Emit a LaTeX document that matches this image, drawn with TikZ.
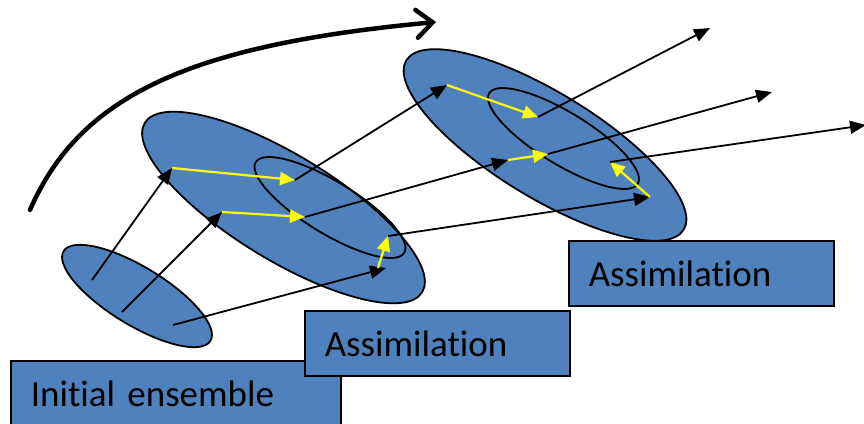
\documentclass[tikz,border=0pt]{standalone}
\usepackage{fontspec}
\setmainfont{Carlito}[Ligatures=NoCommon]
\usepackage{xcolor}
\definecolor{ENSblue}{HTML}{4F81BD}
\definecolor{ENSyellow}{HTML}{FFFF00}
\usetikzlibrary{arrows.meta, shapes.geometric}

\begin{document}
\begin{tikzpicture}[
  x=1pt, y=-1pt,
  cloud/.style={ellipse, draw=black, line width=1.8pt, fill=ENSblue,
    inner sep=0pt, rotate=-31.4},
  core/.style={ellipse, draw=black, line width=1.8pt, inner sep=0pt,
    rotate=-31.4},
  stagebox/.style={rectangle, draw=black, line width=1.6pt, fill=ENSblue,
    anchor=north west, inner xsep=20pt, align=left, minimum height=65pt,
    font=\fontsize{37}{44}\selectfont},
  fcst/.style={draw=black, line width=1.8pt,
    -{Triangle[length=16pt, width=13pt]}},
  incr/.style={draw=ENSyellow, line width=2.2pt,
    -{Triangle[length=15pt, width=13pt]}},
  sweep/.style={draw=black, line width=4.5pt, line cap=round,
    -{Straight Barb[length=16pt, width=28pt, line cap=round]}}
]
\useasboundingbox (0,0) rectangle (864,423);

\node[cloud, minimum width=172pt, minimum height=58pt] (ens0) at (137,296) {};
\node[cloud, minimum width=325pt, minimum height=105pt] (ens1) at (283.5,207.5) {};
\node[core, minimum width=174pt, minimum height=52pt] (core1) at (330,207.5) {};
\node[cloud, minimum width=325pt, minimum height=105pt] (ens2) at (545,145) {};
\node[core, minimum width=174pt, minimum height=52pt] (core2) at (563.5,138.5) {};

\node[stagebox, text width=290pt, minimum height=66pt] (init) at (10,360) {Initial ensemble};
\node[stagebox, text width=225pt] (assim1) at (304,310) {Assimilation};
\node[stagebox, text width=225pt] (assim2) at (568,240) {Assimilation};

\coordinate (m01) at (92,280);
\coordinate (m02) at (122,312);
\coordinate (m03) at (173,325);
\coordinate (f11) at (172,168);
\coordinate (f12) at (222,212);
\coordinate (f13) at (386,268);
\coordinate (a11) at (295,180);
\coordinate (a12) at (305,217);
\coordinate (a13) at (388,236);
\coordinate (f21) at (447,85);
\coordinate (f22) at (508,160);
\coordinate (f23) at (650,197);
\coordinate (a21) at (538,117);
\coordinate (a22) at (548,154);
\coordinate (a23) at (610,162);
\coordinate (f31) at (710,28);
\coordinate (f32) at (772,92);
\coordinate (f33) at (866,125);

\draw[fcst] (m01) -- (f11);
\draw[fcst] (m02) -- (f12);
\draw[fcst] (m03) -- (f13);
\draw[incr] (f11) -- (a11);
\draw[incr] (f12) -- (a12);
\draw[incr] ([xshift=-8pt]f13) -- (a13);

\draw[fcst] (a11) -- (f21);
\draw[fcst] (a12) -- (f22);
\draw[fcst] (a13) -- (f23);
\draw[incr] (f21) -- (a21);
\draw[incr] (f22) -- (a22);
\draw[incr] (f23) -- (a23);

\draw[fcst] (a21) -- (f31);
\draw[fcst] (a22) -- (f32);
\draw[fcst] (a23) -- (f33);

\coordinate (t0) at (30,210);
\coordinate (t1) at (436,22);
\draw[sweep] (t0) .. controls (80,95) and (190,45) .. (t1);
\end{tikzpicture}
\end{document}
